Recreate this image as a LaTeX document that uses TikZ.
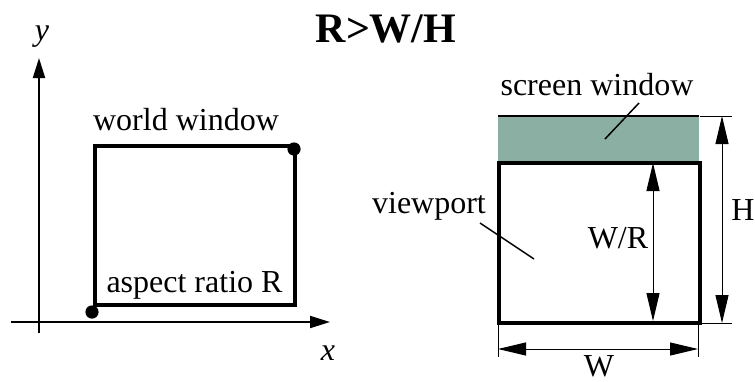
\documentclass[tikz,border=0pt]{standalone}
\usepackage{fontspec}
\setmainfont{Liberation Serif}
\usetikzlibrary{arrows.meta}
\definecolor{scrgreen}{HTML}{8BB0A3}
\begin{document}
\begin{tikzpicture}[x=0.5pt,y=-0.5pt]
\tikzstyle{every node}=[font=\fontsize{16}{19}\selectfont, inner sep=0pt, anchor=base]
\tikzstyle{axis}=[line width=1pt, -{Triangle[length=10pt,width=6pt]}]
\tikzstyle{dim}=[line width=0.5pt, {Triangle[length=14pt,width=6.5pt]}-{Triangle[length=14pt,width=6.5pt]}]
\tikzstyle{ext}=[line width=0.5pt]
\tikzstyle{lead}=[line width=0.75pt]
\useasboundingbox (0,0) rectangle (755,381);

\node[font=\fontsize{21}{25}\selectfont\bfseries] (title) at (386,42) {R>W/H};

% left: world coordinates
\coordinate (ybot) at (39,333);
\coordinate (ytop) at (39,58);
\coordinate (xleft) at (11,322);
\coordinate (xright) at (330,322);
\draw[axis] (ybot) -- (ytop); % y axis
\draw[axis] (xleft) -- (xright); % x axis
\node (ylab) at (42,40) {\textit{y}};
\node (xlab) at (328,360) {\textit{x}};

\coordinate (wwA) at (95,305);
\coordinate (wwB) at (295,146);
\draw[line width=2pt] (wwA) rectangle (wwB); % world window
\fill (92,312) circle [radius=3.3pt];
\fill (294,149) circle [radius=3.3pt];
\node (wwlab) at (186,130) {world window};
\node (arlab) at (194.5,292) {aspect ratio R};

% right: screen window and viewport
\coordinate (swA) at (498,162);
\coordinate (swB) at (699,116);
\fill[scrgreen] (swA) rectangle (swB);
\draw[line width=0.75pt] (498,116) -- (699,116);
\coordinate (vpA) at (499,323);
\coordinate (vpB) at (700,163);
\draw[line width=2pt] (vpA) rectangle (vpB); % viewport

\node (swlab) at (597,95) {screen window};
\coordinate (swend) at (605,139);
\draw[lead] (639,103) -- (swend);
\node (vplab) at (429,213) {viewport};
\coordinate (vpend) at (534,259);
\draw[lead] (480,223) -- (vpend);

% H
\coordinate (Htop) at (722,116);
\coordinate (Hbot) at (722,323);
\draw[ext] (700,116) -- (732,116);
\draw[ext] (700,323) -- (732,323);
\draw[dim] (Htop) -- (Hbot);
\node (Hlab) at (743,220) {H};

% W/R
\coordinate (WRtop) at (653,163);
\coordinate (WRbot) at (653,321);
\draw[dim] (WRtop) -- (WRbot);
\node (WRlab) at (618,248) {W/R};

% W
\coordinate (Wl) at (498,349);
\coordinate (Wr) at (698,349);
\draw[ext] (498,323) -- (498,357);
\draw[ext] (698,323) -- (698,357);
\draw[dim] (Wl) -- (Wr);
\node (Wlab) at (599,376) {W};

\end{tikzpicture}
\end{document}
